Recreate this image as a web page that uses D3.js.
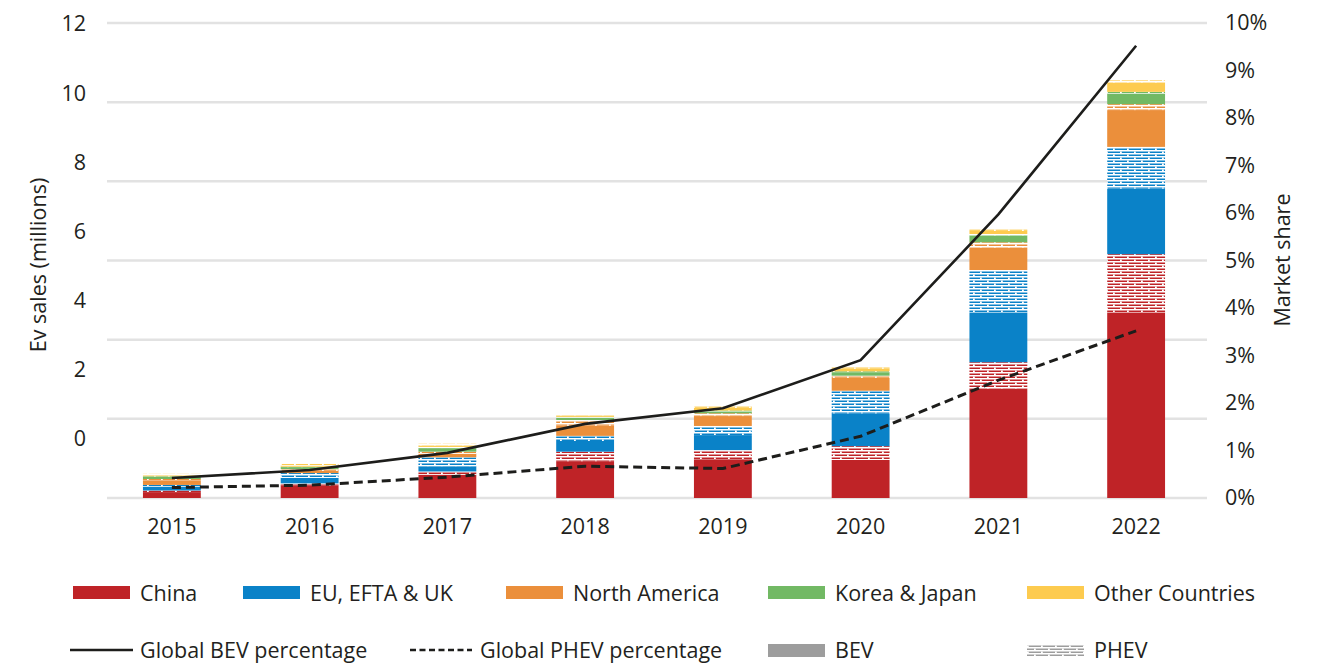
<!DOCTYPE html>
<html>
<head>
<meta charset="utf-8">
<script src="https://cdn.jsdelivr.net/npm/d3@7"></script>
<style>
  html, body { margin: 0; padding: 0; background: #fff; }
  svg { display: block; }
  text { font-family: "Open Sans", "Noto Sans", sans-serif; fill: #231f20; }
</style>
</head>
<body>
<svg id="chart" width="1331" height="663"></svg>
<script>
// ---------- data ----------
const years = ["2015", "2016", "2017", "2018", "2019", "2020", "2021", "2022"];
const chinaBEV  = [0.15, 0.31, 0.59, 0.93, 0.98, 0.96, 2.76, 4.69];
const chinaPHEV = [0.04, 0.06, 0.08, 0.24, 0.23, 0.35, 0.67, 1.47];
const euBEV     = [0.10, 0.14, 0.13, 0.27, 0.38, 0.83, 1.26, 1.66];
const euPHEV    = [0.04, 0.12, 0.23, 0.13, 0.23, 0.57, 1.07, 1.05];
const naBEV     = [0.12, 0.06, 0.09, 0.26, 0.25, 0.33, 0.56, 0.93];
const naPHEV    = [0.03, 0.04, 0.05, 0.14, 0.07, 0.05, 0.14, 0.15];
const kjBEV     = [0.06, 0.05, 0.09, 0.06, 0.05, 0.09, 0.17, 0.27];
const kjPHEV    = [0.01, 0.01, 0.03, 0.02, 0.02, 0.02, 0.04, 0.04];
const otherBEV  = [0.02, 0.03, 0.03, 0.03, 0.07, 0.07, 0.08, 0.23];
const otherPHEV = [0.04, 0.04, 0.05, 0.04, 0.04, 0.06, 0.04, 0.06];
const bevShare  = [0.42, 0.59, 0.95, 1.56, 1.89, 2.90, 5.97, 9.52];   // %
const phevShare = [0.22, 0.27, 0.44, 0.67, 0.62, 1.30, 2.48, 3.52];   // %
const leftTicks  = [0, 2, 4, 6, 8, 10, 12];
const rightTicks = [0, 1, 2, 3, 4, 5, 6, 7, 8, 9, 10];

const regions = ["China", "EU, EFTA & UK", "North America", "Korea & Japan", "Other Countries"];
const regionColors = ["#bf2327", "#0a82c8", "#eb8f3b", "#72b964", "#fdcb4f"];

// ---------- build table ----------
const seriesArrays = [
  ["China|BEV", chinaBEV], ["China|PHEV", chinaPHEV],
  ["EU|BEV", euBEV], ["EU|PHEV", euPHEV],
  ["NA|BEV", naBEV], ["NA|PHEV", naPHEV],
  ["KJ|BEV", kjBEV], ["KJ|PHEV", kjPHEV],
  ["Other|BEV", otherBEV], ["Other|PHEV", otherPHEV]
];
const keys = seriesArrays.map(d => d[0]);
const table = years.map((yr, i) => {
  const row = { year: yr };
  seriesArrays.forEach(([k, arr]) => row[k] = arr[i]);
  return row;
});
const stacked = d3.stack().keys(keys)(table);

// ---------- layout ----------
const svg = d3.select("#chart");
const plotL = 103, plotR = 1205, plotBase = 498, plotTop = 23;

const x = d3.scaleBand().domain(years).range([plotL, plotR])
  .paddingInner(0.58).paddingOuter(0.29);
const y = d3.scaleLinear().domain([0, 12]).range([plotBase, plotTop]);
const yLab = d3.scaleLinear().domain([0, 12]).range([439, 24]);
const y2 = d3.scaleLinear().domain([0, 10]).range([plotBase, plotTop]);

// ---------- patterns ----------
const defs = svg.append("defs");
function makeHatch(id, color) {
  const p = defs.append("pattern").attr("id", id)
    .attr("patternUnits", "userSpaceOnUse").attr("width", 14).attr("height", 6);
  p.append("rect").attr("width", 14).attr("height", 6).attr("fill", color);
  p.append("rect").attr("x", 0).attr("y", 0).attr("width", 14).attr("height", 1.5).attr("fill", "#fff");
  p.append("rect").attr("x", 0).attr("y", 3).attr("width", 14).attr("height", 1.5).attr("fill", "#fff");
  p.append("rect").attr("x", 0).attr("y", 1.5).attr("width", 1.8).attr("height", 1.5).attr("fill", "#fff");
  p.append("rect").attr("x", 7).attr("y", 4.5).attr("width", 1.8).attr("height", 1.5).attr("fill", "#fff");
}
regionColors.forEach((c, i) => makeHatch("hatch" + i, c));
makeHatch("hatchGray", "#9d9d9d");

// ---------- gridlines ----------
svg.append("g").selectAll("line").data(leftTicks).join("line")
  .attr("x1", plotL + 4).attr("x2", plotR + 2)
  .attr("y1", d => y(d)).attr("y2", d => y(d))
  .attr("stroke", "#e2e2e2").attr("stroke-width", 2.5);

// ---------- bars ----------
svg.append("g").selectAll("g").data(stacked).join("g")
  .attr("fill", (s, i) => {
    const r = Math.floor(i / 2);
    return (i % 2 === 0) ? regionColors[r] : `url(#hatch${r})`;
  })
  .selectAll("rect").data(d => d).join("rect")
  .attr("x", d => x(d.data.year))
  .attr("width", x.bandwidth())
  .attr("y", d => y(d[1]))
  .attr("height", d => y(d[0]) - y(d[1]));

// ---------- lines ----------
const cx = yr => x(yr) + x.bandwidth() / 2;
const lineGen = d3.line().x((d, i) => cx(years[i])).y(d => y2(d));
svg.append("path").datum(bevShare).attr("d", lineGen)
  .attr("fill", "none").attr("stroke", "#1d1d1b").attr("stroke-width", 2.6);
svg.append("path").datum(phevShare).attr("d", lineGen)
  .attr("fill", "none").attr("stroke", "#1d1d1b").attr("stroke-width", 3)
  .attr("stroke-dasharray", "9,5");

// ---------- axes ----------
const fs = 21.5;
const axL = svg.append("g").attr("transform", `translate(${plotL},0)`)
  .call(d3.axisLeft(yLab).tickValues(leftTicks).tickSize(0).tickPadding(17));
axL.select(".domain").remove();
axL.selectAll("text").style("font-size", fs + "px").style("font-family", '"Open Sans", sans-serif').attr("fill", "#231f20");

const axR = svg.append("g").attr("transform", `translate(${plotR + 2},0)`)
  .call(d3.axisRight(y2).tickValues(rightTicks).tickFormat(d => d + "%").tickSize(0).tickPadding(18));
axR.select(".domain").remove();
axR.selectAll("text").style("font-size", fs + "px").style("font-family", '"Open Sans", sans-serif').attr("fill", "#231f20");

const axB = svg.append("g").attr("transform", `translate(0,${plotBase})`)
  .call(d3.axisBottom(x).tickSize(0).tickPadding(21));
axB.select(".domain").remove();
axB.selectAll("text").style("font-size", fs + "px").style("font-family", '"Open Sans", sans-serif').attr("fill", "#231f20");

svg.append("text").attr("transform", "translate(46,265) rotate(-90)")
  .attr("text-anchor", "middle").style("font-size", fs + "px").text("Ev sales (millions)");
svg.append("text").attr("transform", "translate(1290,260) rotate(-90)")
  .attr("text-anchor", "middle").style("font-size", fs + "px").text("Market share");

// ---------- legend ----------
const legendRow1 = regions.map((r, i) => ({ label: r, fill: regionColors[i] }));
const row1X = [73, 243, 506, 768, 1027];
const lg1 = svg.append("g").selectAll("g").data(legendRow1).join("g")
  .attr("transform", (d, i) => `translate(${row1X[i]},593)`);
lg1.append("rect").attr("x", 0).attr("y", -7).attr("width", 57).attr("height", 13).attr("fill", d => d.fill);
lg1.append("text").attr("x", 67).attr("dy", "0.35em").style("font-size", fs + "px").text(d => d.label);

const legendRow2 = [
  { label: "Global BEV percentage", type: "solid", x: 70 },
  { label: "Global PHEV percentage", type: "dash", x: 410 },
  { label: "BEV", type: "gray", x: 768 },
  { label: "PHEV", type: "hatch", x: 1027 }
];
const lg2 = svg.append("g").selectAll("g").data(legendRow2).join("g")
  .attr("transform", d => `translate(${d.x},650)`);
lg2.each(function(d) {
  const g = d3.select(this);
  if (d.type === "solid") {
    g.append("line").attr("x1", 0).attr("x2", 63).attr("stroke", "#1d1d1b").attr("stroke-width", 2.6);
  } else if (d.type === "dash") {
    g.append("line").attr("x1", 0).attr("x2", 62).attr("stroke", "#1d1d1b").attr("stroke-width", 2.6)
      .attr("stroke-dasharray", "6,3.5");
  } else if (d.type === "gray") {
    g.append("rect").attr("y", -6).attr("width", 57).attr("height", 13).attr("fill", "#9d9d9d");
  } else {
    g.append("rect").attr("y", -6).attr("width", 57).attr("height", 13).attr("fill", "url(#hatchGray)");
  }
});
lg2.append("text").attr("x", d => (d.type === "solid" || d.type === "dash") ? 70 : 67)
  .attr("dy", "0.35em").style("font-size", fs + "px").text(d => d.label);
</script>
</body>
</html>
